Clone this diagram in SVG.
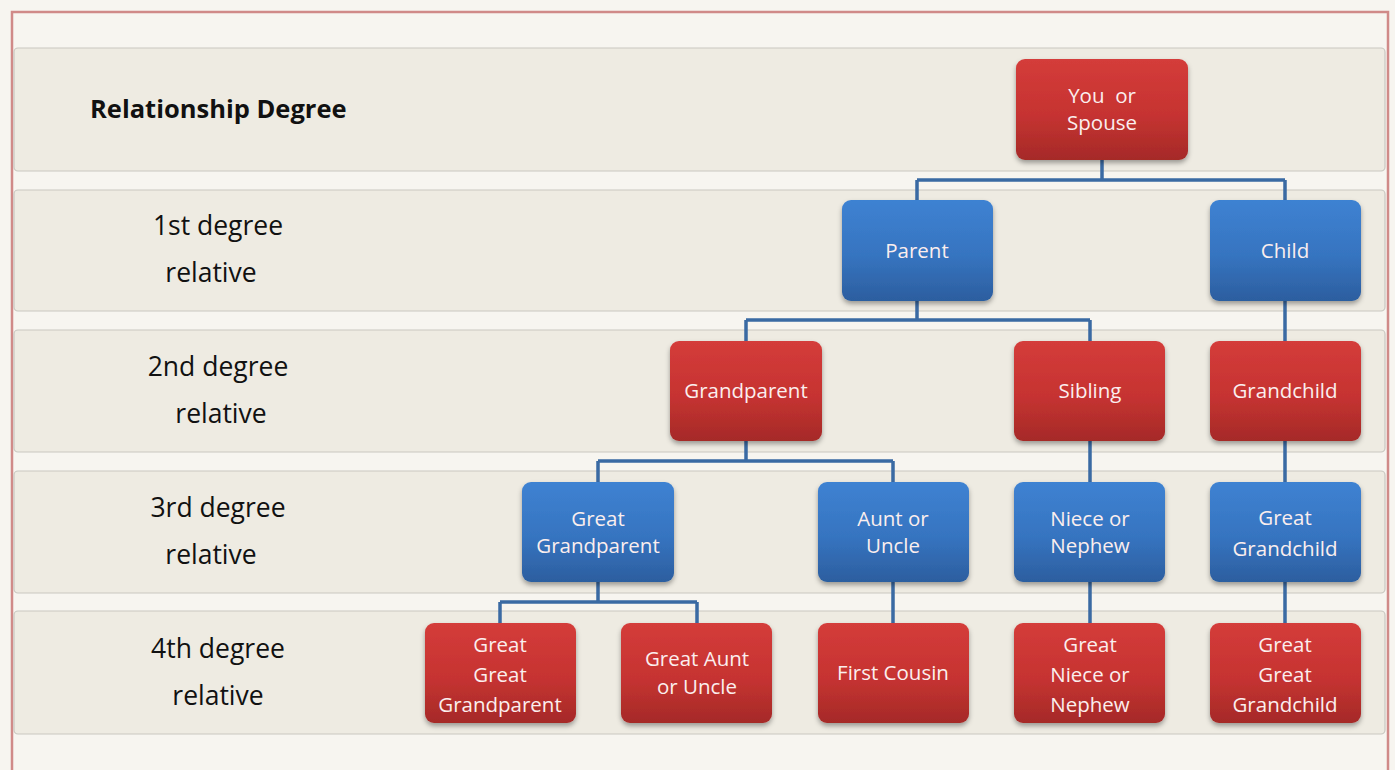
<svg xmlns="http://www.w3.org/2000/svg" width="1395" height="770" viewBox="0 0 1395 770">
<defs>
<linearGradient id="gr" x1="0" y1="0" x2="0" y2="1"><stop offset="0" stop-color="#d43c3a"/><stop offset="0.55" stop-color="#c63331"/><stop offset="1" stop-color="#a52a28"/></linearGradient>
<linearGradient id="gb" x1="0" y1="0" x2="0" y2="1"><stop offset="0" stop-color="#3e82d2"/><stop offset="0.55" stop-color="#3674c0"/><stop offset="1" stop-color="#2c5e9f"/></linearGradient>
<filter id="sh" x="-10%" y="-10%" width="120%" height="130%"><feDropShadow dx="0" dy="3" stdDeviation="2.5" flood-color="#000" flood-opacity="0.35"/></filter>
</defs>
<style>
.band{fill:#eeebe2;stroke:#c9c7c0;stroke-width:1.2}
.r{fill:url(#gr);filter:url(#sh)}
.b{fill:url(#gb);filter:url(#sh)}
.t{font-family:"Open Sans","Liberation Sans",sans-serif;font-size:20.5px;fill:#fbeeee;text-anchor:middle}
.d{font-family:"Open Sans","Liberation Sans",sans-serif;font-size:26.5px;fill:#111;text-anchor:middle}
.c{fill:none;stroke:#3a6aa3;stroke-width:3.5}
</style>
<rect width="1395" height="770" fill="#f7f5f0"/>
<rect x="12" y="12" width="1376" height="770" fill="#f7f5f0" stroke="#d08a88" stroke-width="2.5"/>
<g id="bands">
<rect class="band" x="14" y="48" width="1371" height="123" rx="4"/>
<rect class="band" x="14" y="190" width="1371" height="121" rx="4"/>
<rect class="band" x="14" y="330" width="1371" height="122" rx="4"/>
<rect class="band" x="14" y="471" width="1371" height="122" rx="4"/>
<rect class="band" x="14" y="611" width="1371" height="123" rx="4"/>
</g>
<g id="labels">
<text x="90" y="118" font-family="'Open Sans','Liberation Sans',sans-serif" font-size="25.5" font-weight="bold" fill="#111">Relationship Degree</text>
<text class="d" x="218" y="235">1st degree</text><text class="d" x="211" y="282">relative</text>
<text class="d" x="218" y="376">2nd degree</text><text class="d" x="221" y="423">relative</text>
<text class="d" x="218" y="517">3rd degree</text><text class="d" x="211" y="564">relative</text>
<text class="d" x="218" y="658">4th degree</text><text class="d" x="218" y="705">relative</text>
</g>
<g id="connectors">
<path class="c" d="M1102 160V180M917 180H1285M917 180V200M1285 180V200"/>
<path class="c" d="M917 301V320M746 320H1090M746 320V341M1090 320V341"/>
<path class="c" d="M1285 301V341"/>
<path class="c" d="M746 441V461M598 461H893M598 461V482M893 461V482"/>
<path class="c" d="M1090 441V482M1285 441V482"/>
<path class="c" d="M598 582V602M500 602H697M500 602V623M697 602V623"/>
<path class="c" d="M893 582V623M1090 582V623M1285 582V623"/>
</g>
<g id="you"><rect class="r" x="1016" y="59" width="172" height="101" rx="9"/><text class="t" x="1102" y="103" xml:space="preserve">You  or</text><text class="t" x="1102" y="130">Spouse</text></g>
<g id="parent"><rect class="b" x="842" y="200" width="151" height="101" rx="9"/><text class="t" x="917" y="258">Parent</text></g>
<g id="child"><rect class="b" x="1210" y="200" width="151" height="101" rx="9"/><text class="t" x="1285" y="258">Child</text></g>
<g id="grandparent"><rect class="r" x="670" y="341" width="152" height="100" rx="9"/><text class="t" x="746" y="398">Grandparent</text></g>
<g id="sibling"><rect class="r" x="1014" y="341" width="151" height="100" rx="9"/><text class="t" x="1090" y="398">Sibling</text></g>
<g id="grandchild"><rect class="r" x="1210" y="341" width="151" height="100" rx="9"/><text class="t" x="1285" y="398">Grandchild</text></g>
<g id="greatgrandparent"><rect class="b" x="522" y="482" width="152" height="100" rx="9"/><text class="t" x="598" y="526">Great</text><text class="t" x="598" y="553">Grandparent</text></g>
<g id="aunt"><rect class="b" x="818" y="482" width="151" height="100" rx="9"/><text class="t" x="893" y="526">Aunt or</text><text class="t" x="893" y="553">Uncle</text></g>
<g id="niece"><rect class="b" x="1014" y="482" width="151" height="100" rx="9"/><text class="t" x="1090" y="526">Niece or</text><text class="t" x="1090" y="553">Nephew</text></g>
<g id="greatgrandchild"><rect class="b" x="1210" y="482" width="151" height="100" rx="9"/><text class="t" x="1285" y="525">Great</text><text class="t" x="1285" y="556">Grandchild</text></g>
<g id="ggp"><rect class="r" x="425" y="623" width="151" height="100" rx="9"/><text class="t" x="500" y="652">Great</text><text class="t" x="500" y="682">Great</text><text class="t" x="500" y="712">Grandparent</text></g>
<g id="greataunt"><rect class="r" x="621" y="623" width="151" height="100" rx="9"/><text class="t" x="697" y="666">Great Aunt</text><text class="t" x="697" y="694">or Uncle</text></g>
<g id="cousin"><rect class="r" x="818" y="623" width="151" height="100" rx="9"/><text class="t" x="893" y="680">First Cousin</text></g>
<g id="greatniece"><rect class="r" x="1014" y="623" width="151" height="100" rx="9"/><text class="t" x="1090" y="652">Great</text><text class="t" x="1090" y="682">Niece or</text><text class="t" x="1090" y="712">Nephew</text></g>
<g id="ggc"><rect class="r" x="1210" y="623" width="151" height="100" rx="9"/><text class="t" x="1285" y="652">Great</text><text class="t" x="1285" y="682">Great</text><text class="t" x="1285" y="712">Grandchild</text></g>
</svg>
